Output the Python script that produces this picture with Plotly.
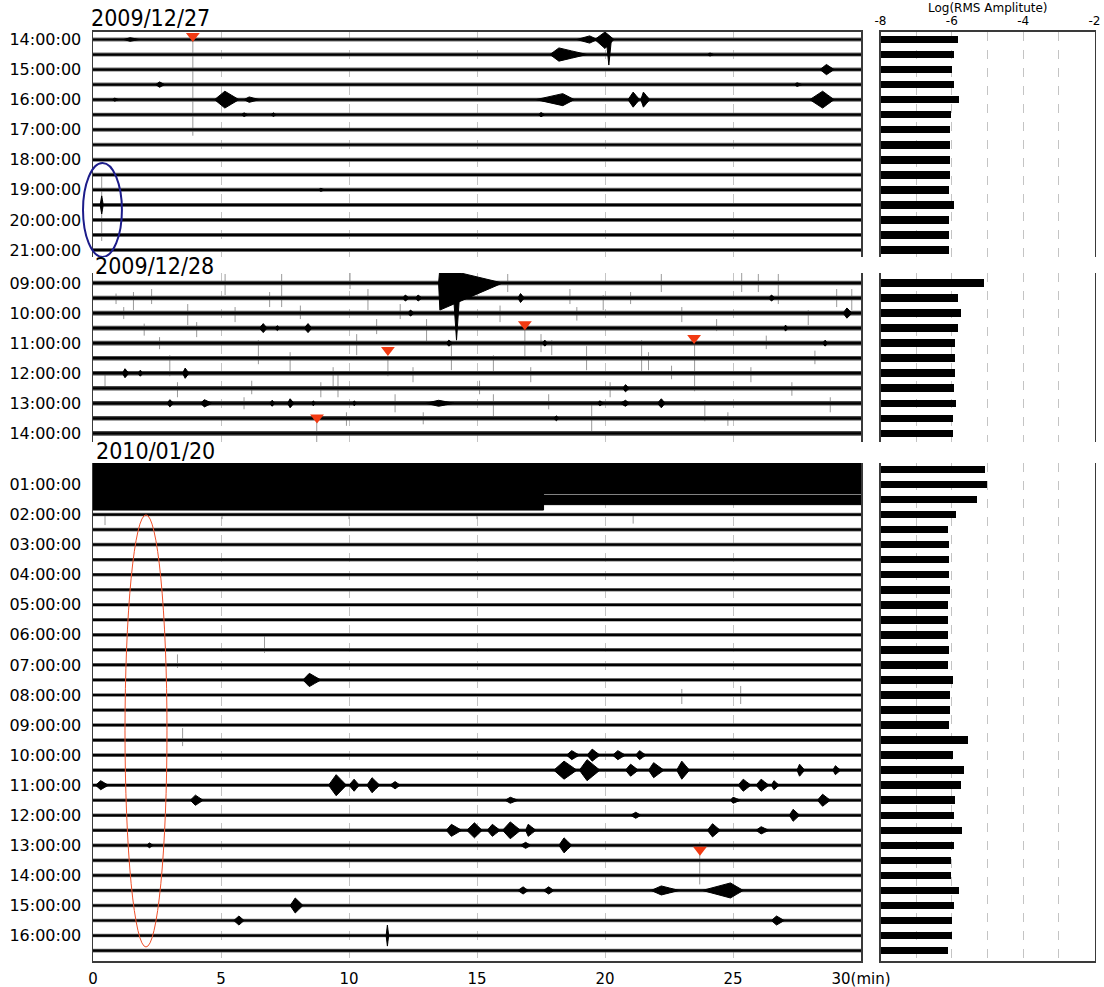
import plotly.graph_objects as go

W, H = 1104, 987

# ------------------------------------------------------------------ data
# half-hour rows (hour of day) and log RMS amplitude of each 30-min trace
HOURS_1227 = [14.0, 14.5, 15.0, 15.5, 16.0, 16.5, 17.0, 17.5, 18.0, 18.5, 19.0, 19.5, 20.0, 20.5, 21.0]
RMS_1227 = [-5.82, -5.95, -5.99, -5.93, -5.80, -6.03, -6.06, -6.05, -6.05, -6.05, -6.07, -5.93, -6.07, -6.07, -6.07]

HOURS_1228 = [9.0, 9.5, 10.0, 10.5, 11.0, 11.5, 12.0, 12.5, 13.0, 13.5, 14.0]
RMS_1228 = [-5.09, -5.84, -5.73, -5.82, -5.92, -5.91, -5.90, -5.95, -5.88, -5.98, -5.98]

HOURS_0120 = [0.5, 1.0, 1.5, 2.0, 2.5, 3.0, 3.5, 4.0, 4.5, 5.0, 5.5, 6.0, 6.5, 7.0, 7.5, 8.0, 8.5,
              9.0, 9.5, 10.0, 10.5, 11.0, 11.5, 12.0, 12.5, 13.0, 13.5, 14.0, 14.5, 15.0, 15.5, 16.0, 16.5]
RMS_0120 = [-5.08, -5.02, -5.30, -5.89, -6.11, -6.08, -6.08, -6.08, -6.06, -6.11, -6.11, -6.11, -6.08, -6.11,
            -5.97, -6.06, -6.06, -6.08, -5.55, -5.97, -5.66, -5.75, -5.92, -5.94, -5.72, -5.94, -6.03, -6.03,
            -5.80, -5.94, -6.00, -6.00, -6.11]

# wave-train events: (row hour, start min, peak min, end min, amp above, amp below) in hours
EVENTS_1227 = [
    (14.0, 1.2, 1.45, 1.8, 0.06, 0.06), (14.0, 18.9, 19.4, 19.7, 0.12, 0.12), (14.0, 19.6, 20.0, 20.35, 0.25, 0.3),
    (14.5, 17.85, 18.2, 19.3, 0.22, 0.22), (14.5, 24.0, 24.1, 24.25, 0.05, 0.05),
    (15.0, 28.4, 28.65, 28.95, 0.17, 0.17),
    (15.5, 2.45, 2.6, 2.8, 0.09, 0.09), (15.5, 27.4, 27.5, 27.7, 0.06, 0.06),
    (16.0, 0.75, 0.85, 1.0, 0.05, 0.05), (16.0, 4.75, 5.15, 5.7, 0.28, 0.28), (16.0, 5.9, 6.1, 6.5, 0.09, 0.09),
    (16.0, 17.3, 18.35, 18.8, 0.2, 0.2), (16.0, 20.9, 21.1, 21.35, 0.25, 0.25), (16.0, 21.4, 21.5, 21.75, 0.25, 0.25),
    (16.0, 28.0, 28.5, 28.95, 0.28, 0.28),
    (16.5, 5.8, 5.9, 6.05, 0.06, 0.06), (16.5, 6.95, 7.05, 7.15, 0.06, 0.06), (16.5, 17.4, 17.5, 17.65, 0.07, 0.07),
    (19.0, 8.8, 8.9, 9.05, 0.05, 0.05),
    (19.5, 0.28, 0.34, 0.4, 0.3, 0.3),
    (14.0, 20.05, 20.15, 20.25, 0.0, 0.85),
]
EVENTS_1228 = [
    (9.0, 13.5, 13.55, 16.0, 0.5, 0.9), (9.0, 14.05, 14.2, 14.35, 0.0, 1.9),
    (9.5, 12.1, 12.2, 12.35, 0.1, 0.1), (9.5, 12.6, 12.7, 12.85, 0.1, 0.1), (9.5, 16.6, 16.7, 16.85, 0.15, 0.15),
    (9.5, 26.4, 26.5, 26.65, 0.1, 0.1),
    (10.0, 12.3, 12.4, 12.55, 0.1, 0.1), (10.0, 29.3, 29.45, 29.65, 0.17, 0.17),
    (10.5, 6.5, 6.65, 6.8, 0.15, 0.15), (10.5, 7.1, 7.2, 7.3, 0.08, 0.08), (10.5, 8.25, 8.4, 8.55, 0.15, 0.15),
    (10.5, 27.0, 27.05, 27.15, 0.1, 0.1),
    (11.0, 13.8, 13.9, 14.05, 0.1, 0.1), (11.0, 17.55, 17.65, 17.75, 0.1, 0.1), (11.0, 28.5, 28.6, 28.7, 0.1, 0.1),
    (12.0, 1.15, 1.25, 1.4, 0.15, 0.15), (12.0, 1.75, 1.85, 1.95, 0.1, 0.1), (12.0, 3.5, 3.6, 3.75, 0.17, 0.17),
    (12.5, 20.7, 20.8, 20.95, 0.12, 0.12),
    (13.0, 2.9, 3.0, 3.15, 0.12, 0.12), (13.0, 4.2, 4.35, 4.65, 0.12, 0.12), (13.0, 6.9, 7.0, 7.1, 0.1, 0.1),
    (13.0, 7.6, 7.7, 7.85, 0.15, 0.15), (13.0, 8.55, 8.6, 8.7, 0.08, 0.08), (13.0, 10.15, 10.2, 10.3, 0.08, 0.08),
    (13.0, 13.0, 13.5, 14.1, 0.1, 0.1), (13.0, 19.7, 19.8, 19.95, 0.08, 0.08), (13.0, 20.6, 20.8, 20.95, 0.1, 0.1),
    (13.0, 22.05, 22.2, 22.35, 0.15, 0.15), (13.5, 18.0, 18.1, 18.2, 0.08, 0.08),
]
EVENTS_0120 = [
    (7.5, 8.2, 8.45, 8.9, 0.22, 0.22),
    (10.0, 18.5, 18.7, 19.0, 0.15, 0.15), (10.0, 19.3, 19.5, 19.8, 0.2, 0.2), (10.0, 20.3, 20.5, 20.8, 0.15, 0.15),
    (10.0, 21.2, 21.35, 21.6, 0.15, 0.15),
    (10.5, 18.0, 18.4, 18.9, 0.3, 0.3), (10.5, 19.0, 19.3, 19.8, 0.35, 0.35), (10.5, 20.8, 21.0, 21.3, 0.2, 0.2),
    (10.5, 21.7, 21.9, 22.3, 0.25, 0.25), (10.5, 22.8, 23.0, 23.3, 0.3, 0.3), (10.5, 27.5, 27.6, 27.8, 0.2, 0.2),
    (10.5, 28.9, 29.0, 29.2, 0.15, 0.15),
    (11.0, 0.1, 0.3, 0.6, 0.15, 0.15), (11.0, 9.2, 9.5, 9.9, 0.35, 0.35), (11.0, 10.0, 10.2, 10.4, 0.2, 0.2),
    (11.0, 10.7, 10.9, 11.2, 0.25, 0.25), (11.0, 11.6, 11.8, 12.0, 0.12, 0.12), (11.0, 25.2, 25.4, 25.7, 0.2, 0.2),
    (11.0, 25.9, 26.1, 26.4, 0.2, 0.2), (11.0, 26.5, 26.6, 26.8, 0.15, 0.15),
    (11.5, 3.8, 4.0, 4.3, 0.17, 0.17), (11.5, 16.1, 16.3, 16.6, 0.1, 0.1), (11.5, 24.9, 25.0, 25.3, 0.1, 0.1),
    (11.5, 28.3, 28.5, 28.8, 0.2, 0.2),
    (12.0, 27.2, 27.35, 27.6, 0.2, 0.2), (12.0, 21.0, 21.2, 21.4, 0.1, 0.1),
    (12.5, 13.8, 14.0, 14.4, 0.2, 0.2), (12.5, 14.6, 14.9, 15.2, 0.25, 0.25), (12.5, 15.4, 15.6, 15.9, 0.2, 0.2),
    (12.5, 16.0, 16.3, 16.7, 0.28, 0.28), (12.5, 16.9, 17.0, 17.3, 0.2, 0.2), (12.5, 24.0, 24.2, 24.5, 0.22, 0.22),
    (12.5, 25.9, 26.1, 26.4, 0.12, 0.12),
    (13.0, 16.7, 16.9, 17.1, 0.1, 0.1), (13.0, 18.2, 18.4, 18.7, 0.25, 0.25), (13.0, 2.1, 2.2, 2.35, 0.08, 0.08),
    (14.5, 16.6, 16.8, 17.0, 0.12, 0.12), (14.5, 17.6, 17.8, 18.0, 0.12, 0.12), (14.5, 21.8, 22.2, 22.9, 0.15, 0.15),
    (14.5, 23.8, 24.9, 25.4, 0.25, 0.25),
    (15.0, 7.7, 7.9, 8.2, 0.25, 0.25), (15.5, 5.5, 5.7, 5.9, 0.15, 0.15), (15.5, 26.5, 26.7, 27.0, 0.15, 0.15),
    (16.0, 11.45, 11.5, 11.55, 0.35, 0.35),
]
# strong continuous noise bands: (row hour, start min, end min, amp above, amp below)
BANDS_0120 = [(0.5, 0.0, 30.0, 0.3, 0.25), (1.0, 0.0, 30.0, 0.3, 0.3),
              (1.5, 0.0, 17.6, 0.3, 0.35), (1.0, 17.6, 30.0, 0.3, 0.2), (1.5, 17.6, 30.0, 0.15, 0.17)]

# thin grey spikes: (row hour, min, length above, length below) in hours
SPIKES_1227 = [(14.0, 3.9, 0.0, 3.2), (19.5, 0.34, 1.0, 1.2)]
SPIKES_1228 = [
    (12.0, 0.47, 0.0, 0.5), (9.5, 1.58, 0.2, 0.4), (9.5, 2.29, 0.3, 0.2), (11.5, 3.0, 0.1, 0.6),
    (10.0, 3.7, 0.3, 0.4), (10.5, 4.05, 0.2, 0.3), (9.0, 5.16, 0.3, 0.4), (10.0, 5.55, 0.2, 0.3),
    (11.0, 6.46, 0.1, 0.7), (9.0, 7.37, 0.3, 0.8), (11.5, 7.7, 0.2, 0.5), (13.5, 8.74, 0.0, 0.9),
    (12.0, 9.38, 0.2, 0.5), (12.0, 9.57, 0.0, 0.8), (9.0, 10.04, 0.5, 0.2), (11.0, 10.3, 0.3, 0.4),
    (9.5, 10.74, 0.3, 0.4), (10.5, 11.08, 0.3, 0.2), (11.5, 11.52, 0.0, 0.6), (13.0, 11.8, 0.3, 0.3),
    (10.5, 13.03, 0.3, 0.5), (11.5, 14.0, 0.5, 0.4), (11.5, 15.64, 0.1, 0.5), (13.0, 15.64, 0.3, 0.5),
    (9.0, 16.2, 0.3, 0.3), (10.5, 16.87, 0.0, 1.0), (11.0, 17.5, 0.3, 0.3), (11.0, 17.92, 0.1, 0.4),
    (9.5, 18.63, 0.3, 0.2), (11.5, 19.28, 0.4, 0.4), (13.5, 19.48, 0.5, 0.5), (9.5, 19.93, 0.1, 0.4),
    (11.5, 21.43, 0.6, 0.5), (11.5, 21.7, 0.2, 0.4), (9.0, 22.2, 0.3, 0.3), (10.0, 23.0, 0.2, 0.3),
    (11.0, 23.5, 0.0, 1.6), (13.0, 23.9, 0.1, 0.6), (10.5, 24.36, 0.3, 0.1), (9.0, 25.34, 0.4, 0.3),
    (9.0, 25.99, 0.3, 0.3), (9.0, 26.77, 0.3, 0.7), (10.0, 27.94, 0.1, 0.4), (9.5, 29.05, 0.3, 0.3),
    (9.5, 29.64, 0.3, 0.4),
    (9.5, 0.9, 0.15, 0.2), (10.0, 1.2, 0.2, 0.2), (10.5, 2.0, 0.15, 0.25), (11.0, 2.6, 0.2, 0.2),
    (12.5, 3.3, 0.2, 0.3), (13.0, 5.9, 0.2, 0.2), (12.5, 6.2, 0.25, 0.2), (9.5, 6.9, 0.2, 0.3),
    (10.0, 8.1, 0.25, 0.2), (12.5, 8.9, 0.2, 0.3), (13.5, 9.9, 0.2, 0.25), (10.0, 12.0, 0.3, 0.2),
    (12.0, 12.5, 0.2, 0.3), (13.5, 12.9, 0.2, 0.2), (12.5, 15.1, 0.25, 0.2), (10.0, 15.9, 0.25, 0.3),
    (12.0, 17.1, 0.2, 0.3), (13.0, 17.8, 0.3, 0.2), (10.0, 18.9, 0.2, 0.25), (12.5, 20.2, 0.2, 0.3),
    (9.5, 21.0, 0.2, 0.2), (12.0, 22.6, 0.25, 0.2), (13.5, 24.8, 0.2, 0.25), (12.0, 25.7, 0.2, 0.3),
    (11.0, 26.3, 0.25, 0.2), (12.5, 27.3, 0.2, 0.25), (11.5, 28.2, 0.25, 0.2), (13.0, 28.8, 0.2, 0.3),
]
SPIKES_0120 = [(2.0, 0.47, 0.0, 0.35), (2.0, 5.04, 0.0, 0.15), (2.0, 10.0, 0.0, 0.15), (2.0, 15.0, 0.0, 0.15),
               (2.0, 21.1, 0.0, 0.3), (6.5, 6.7, 0.5, 0.1), (7.0, 3.3, 0.35, 0.1), (8.0, 23.0, 0.2, 0.3),
               (8.0, 25.3, 0.3, 0.3), (9.5, 3.5, 0.4, 0.2), (13.0, 23.7, 0.1, 1.3)]

# red event markers (min, hour) and highlighted ellipses (min0, min1, hour0, hour1)
TRI_1227 = [(3.9, 13.88)]
TRI_1228 = [(11.52, 11.23), (16.87, 10.37), (23.48, 10.83), (8.75, 13.47)]
TRI_0120 = [(23.71, 13.15)]
ELLIPSE_1227 = (-0.39, 1.13, 18.11, 21.23)
ELLIPSE_0120 = (1.25, 2.89, 2.01, 16.38)

DATES = ["2009/12/27", "2009/12/28", "2010/01/20"]
X_TICKS = [0, 5, 10, 15, 20, 25, 30]
X_TICKTEXT = ["0", "5", "10", "15", "20", "25", "30(min)"]
RMS_TICKS = [-8, -6, -4, -2]

# ------------------------------------------------------------------ layout geometry
def py(y):
    return 1 - y / H

XL = [93 / W, 861 / W]
XR = [880.5 / W, 1094.5 / W]
PANELS = [
    dict(dom=[py(257), py(31.5)], rng=[21.233, 13.734], hours=HOURS_1227, rms=RMS_1227,
         ev=EVENTS_1227, bands=[], sp=SPIKES_1227, tri=TRI_1227, lab=list(range(14, 22)),
         fuzz=4, fuzzc="#707070"),
    dict(dom=[py(442), py(273)], rng=[14.288, 8.667], hours=HOURS_1228, rms=RMS_1228,
         ev=EVENTS_1228, bands=[], sp=SPIKES_1228, tri=TRI_1228, lab=list(range(9, 15)),
         fuzz=4.6, fuzzc="#4a4a4a"),
    dict(dom=[py(961), py(463)], rng=[16.846, 0.285], hours=HOURS_0120, rms=RMS_0120,
         ev=EVENTS_0120, bands=BANDS_0120, sp=SPIKES_0120, tri=TRI_0120, lab=list(range(1, 17)),
         fuzz=3.6, fuzzc="#707070"),
]

fig = go.Figure()
lay = {}
FRAME = "#3a3a3a"
GRID = "#c4c4c4"

for i, p in enumerate(PANELS):
    kl, kr = 2 * i + 1, 2 * i + 2
    xl = "x" if kl == 1 else f"x{kl}"
    yl = "y" if kl == 1 else f"y{kl}"
    xr, yr = f"x{kr}", f"y{kr}"

    # grey spikes
    sx, sy = [], []
    for r, t, up, dn in p["sp"]:
        sx += [t, t, None]
        sy += [r - up, r + dn, None]
    fig.add_trace(go.Scatter(x=sx, y=sy, mode="lines", line=dict(color="#9a9a9a", width=1),
                             hoverinfo="skip", showlegend=False, xaxis=xl, yaxis=yl))
    # baselines
    lx, ly = [], []
    for r in p["hours"]:
        lx += [0, 30, None]
        ly += [r, r, None]
    fig.add_trace(go.Scatter(x=lx, y=ly, mode="lines", line=dict(color=p["fuzzc"], width=p["fuzz"]),
                             hoverinfo="skip", showlegend=False, xaxis=xl, yaxis=yl))
    fig.add_trace(go.Scatter(x=lx, y=ly, mode="lines", line=dict(color="black", width=2.2),
                             hoverinfo="skip", showlegend=False, xaxis=xl, yaxis=yl))
    # noise bands
    bx, by = [], []
    for r, t0, t1, up, dn in p["bands"]:
        bx += [t0, t1, t1, t0, t0, None]
        by += [r - up, r - up, r + dn, r + dn, r - up, None]
    if bx:
        fig.add_trace(go.Scatter(x=bx, y=by, mode="lines", fill="toself", fillcolor="black",
                                 line=dict(color="black", width=1), hoverinfo="skip",
                                 showlegend=False, xaxis=xl, yaxis=yl))
    # events (spindle envelopes)
    ex, ey = [], []
    for r, t0, tp, t1, up, dn in p["ev"]:
        tm = tp + 0.45 * (t1 - tp)
        ex += [t0, tp, tm, t1, tm, tp, t0, None]
        ey += [r, r - up, r - 0.55 * up, r, r + 0.55 * dn, r + dn, r, None]
    fig.add_trace(go.Scatter(x=ex, y=ey, mode="lines", fill="toself", fillcolor="black",
                             line=dict(color="black", width=1), hoverinfo="skip",
                             showlegend=False, xaxis=xl, yaxis=yl))
    # red triangles
    fig.add_trace(go.Scatter(x=[a for a, b in p["tri"]], y=[b for a, b in p["tri"]], mode="markers",
                             marker=dict(symbol="triangle-down", size=12, color="#f23a12",
                                         line=dict(width=0)),
                             cliponaxis=False, hoverinfo="skip", showlegend=False, xaxis=xl, yaxis=yl))
    # RMS bars
    fig.add_trace(go.Bar(x=[v + 8 for v in p["rms"]], base=-8, y=p["hours"], orientation="h",
                         width=0.25, marker=dict(color="black", line=dict(width=0)),
                         hoverinfo="skip", showlegend=False, xaxis=xr, yaxis=yr))

    last = i == 2
    first = i == 0
    lay["xaxis" if kl == 1 else f"xaxis{kl}"] = dict(
        domain=XL, range=[0, 30], anchor=yl, showgrid=True, gridcolor=GRID, griddash="dash",
        gridwidth=1, tickvals=X_TICKS, ticktext=X_TICKTEXT, showticklabels=last, zeroline=False,
        ticks="outside" if last else "", ticklen=3, tickcolor="rgba(0,0,0,0)", automargin=False,
        tickfont=dict(size=15, color="black", family="DejaVu Sans"),
        showline=first or last, linecolor=FRAME, linewidth=1.5, side="top" if first else "bottom")
    lay["yaxis" if kl == 1 else f"yaxis{kl}"] = dict(
        domain=p["dom"], range=p["rng"], anchor=xl, showgrid=False, zeroline=False,
        tickvals=p["lab"], ticktext=[f"{h:02d}:00:00" for h in p["lab"]], automargin=False,
        ticks="outside", ticklen=7, tickcolor="rgba(0,0,0,0)",
        tickfont=dict(size=16, color="black", family="DejaVu Sans"),
        showline=True, linecolor=FRAME, linewidth=1.5, mirror=True)
    lay[f"xaxis{kr}"] = dict(
        domain=XR, range=[-8, -2], anchor=yr, showgrid=True, gridcolor=GRID, griddash="dash",
        gridwidth=1, tickvals=RMS_TICKS, ticktext=[str(v) for v in RMS_TICKS], showticklabels=first,
        ticks="", automargin=False,
        tickfont=dict(size=12, color="black", family="DejaVu Sans"),
        minor=dict(tickvals=[-7, -5, -3], showgrid=True, gridcolor=GRID, griddash="dash", gridwidth=1),
        zeroline=False, showline=first or last, linecolor=FRAME, linewidth=1.5,
        side="top" if first else "bottom")
    lay[f"yaxis{kr}"] = dict(
        domain=p["dom"], range=p["rng"], anchor=xr, showgrid=False, zeroline=False, automargin=False,
        showticklabels=False, showline=True, linecolor=FRAME, linewidth=1.5, mirror=True)

fig.update_layout(**lay)

def xpaper(t):
    return XL[0] + t / 30 * (XL[1] - XL[0])

shapes = [
    dict(type="circle", xref="paper", yref="y", x0=xpaper(ELLIPSE_1227[0]), x1=xpaper(ELLIPSE_1227[1]),
         y0=ELLIPSE_1227[2], y1=ELLIPSE_1227[3], line=dict(color="#1c1c8a", width=2)),
    dict(type="circle", xref="paper", yref="y5", x0=xpaper(ELLIPSE_0120[0]), x1=xpaper(ELLIPSE_0120[1]),
         y0=ELLIPSE_0120[2], y1=ELLIPSE_0120[3], line=dict(color="#f0502a", width=1)),
]

DATE_FONT = dict(family="DejaVu Sans Condensed, Liberation Sans Narrow, DejaVu Sans", size=23, color="black")
annotations = [
    dict(text=DATES[0], x=89 / W, y=py(33), xref="paper", yref="paper", xanchor="left", yanchor="bottom",
         showarrow=False, font=DATE_FONT),
    dict(text=DATES[1], x=93 / W, y=py(281), xref="paper", yref="paper", xanchor="left", yanchor="bottom",
         showarrow=False, font=DATE_FONT),
    dict(text=DATES[2], x=94 / W, y=py(466), xref="paper", yref="paper", xanchor="left", yanchor="bottom",
         showarrow=False, font=DATE_FONT),
    dict(text="Log(RMS Amplitute)", x=988 / W, y=1.0, xref="paper", yref="paper", xanchor="center",
         yanchor="top", showarrow=False, borderpad=0,
         font=dict(family="DejaVu Sans", size=12, color="black")),
]

fig.update_layout(template="none", width=W, height=H,
                  margin=dict(l=0, r=0, t=0, b=0, autoexpand=False), plot_bgcolor="white",
                  paper_bgcolor="white", shapes=shapes, annotations=annotations,
                  font=dict(family="DejaVu Sans", color="black"), bargap=0)

fig.write_html("out.html", config={"displayModeBar": False, "staticPlot": True},
               post_script="document.body.style.margin='0px';document.body.style.overflow='hidden';")
